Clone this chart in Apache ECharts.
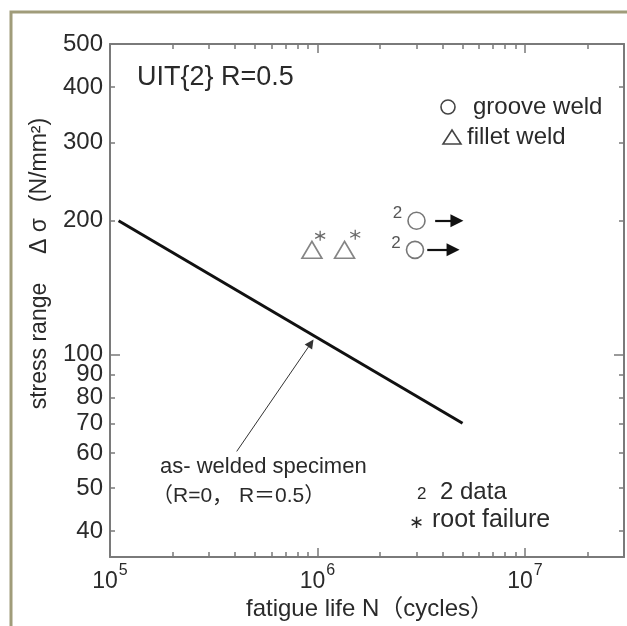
<!DOCTYPE html>
<html>
<head>
<meta charset="utf-8">
<script src="https://cdn.jsdelivr.net/npm/echarts@6/dist/echarts.min.js"></script>
<style>
  html, body { margin: 0; padding: 0; background: #fff; }
  #main { width: 627px; height: 626px; }
</style>
</head>
<body>
<div id="main"></div>
<script>
// values (N in cycles, S in N/mm2)
var lineN = [1.1e5, 5e6];
var lineS = [200, 70];
var grooveN = [3.0e6, 2.95e6];
var grooveS = [200, 172];
var filletN = [9.4e5, 1.35e6];
var filletS = [172, 172];
var rootN = [1.03e6, 1.52e6];
var rootS = [185, 186];
// run-out arrows: start / end of each arrow
var runStartN = [3.69e6, 3.38e6];
var runEndN = [4.7e6, 4.5e6];
var runS = [200, 172];
// pointer to the as-welded line
var noteN = [4.08e5, 9.3e5];
var noteS = [60.5, 106];

var xRange = [1e5, 3e7];
var yRange = [35, 500];
var xMajor = [1e5, 1e6, 1e7];
var xMinor = [2e5, 3e5, 4e5, 5e5, 6e5, 7e5, 8e5, 9e5, 2e6, 3e6, 4e6, 5e6, 6e6, 7e6, 8e6, 9e6, 2e7];
var yTickLabels = [40, 50, 60, 70, 80, 90, 100, 200, 300, 400, 500];
var yMajor = [100];
var yMinor = [40, 50, 60, 70, 80, 90, 200, 300, 400, 500];

var L = function (v) { return Math.log10(v); };
var pairs = function (a, b) { return a.map(function (v, i) { return [L(v), L(b[i])]; }); };

var FONT = '"Liberation Sans", Arial, "Noto Sans CJK SC", sans-serif';
var TXT = '#2a2a2a';
var AX = '#7a7a7a';

var chart = echarts.init(document.getElementById('main'));

function xAx(pos, ticks, len, line, labels) {
  return {
    type: 'value', position: pos,
    min: L(xRange[0]), max: L(xRange[1]),
    axisLine: { show: line, lineStyle: { color: AX, width: 2 } },
    axisTick: { show: true, inside: true, length: len, customValues: ticks.map(L), lineStyle: { color: AX, width: 1.5 } },
    axisLabel: labels ? {
      show: true, margin: 6, customValues: xMajor.map(L),
      formatter: function (v) { return '{b|10}{s|' + Math.round(v) + '}'; },
      rich: {
        b: { fontSize: 23, fontFamily: FONT, color: TXT, lineHeight: 30, verticalAlign: 'bottom' },
        s: { fontSize: 16, fontFamily: FONT, color: TXT, lineHeight: 30, verticalAlign: 'top', padding: [0, 0, 0, 1] }
      }
    } : { show: false },
    splitLine: { show: false }
  };
}
function yAx(pos, ticks, len, line, labels) {
  return {
    type: 'value', position: pos,
    min: L(yRange[0]), max: L(yRange[1]),
    axisLine: { show: line, lineStyle: { color: AX, width: 2 } },
    axisTick: { show: true, inside: true, length: len, customValues: ticks.map(L), lineStyle: { color: AX, width: 1.5 } },
    axisLabel: labels ? {
      show: true, margin: 7, customValues: yTickLabels.map(L),
      formatter: function (v) { return String(Math.round(Math.pow(10, v))); },
      fontSize: 24, fontFamily: FONT, color: TXT
    } : { show: false },
    splitLine: { show: false }
  };
}

var option = {
  backgroundColor: '#fff',
  animation: false,
  grid: { left: 110, top: 44, right: 3, bottom: 69, containLabel: false },
  xAxis: [
    xAx('bottom', xMajor, 9, true, true),
    xAx('bottom', xMinor, 5, false, false),
    xAx('top', xMajor, 9, true, false),
    xAx('top', xMinor, 5, false, false)
  ],
  yAxis: [
    yAx('left', yMajor, 10, true, true),
    yAx('left', yMinor, 5, false, false),
    yAx('right', yMajor, 10, true, false),
    yAx('right', yMinor, 5, false, false)
  ],
  series: [
    {
      name: 'as-welded', type: 'line', data: pairs(lineN, lineS),
      symbol: 'none', lineStyle: { color: '#111', width: 3 }
    },
    {
      name: 'fillet weld', type: 'scatter', data: pairs(filletN, filletS),
      symbol: 'triangle', symbolSize: [20, 17],
      itemStyle: { color: 'rgba(255,255,255,0)', borderColor: '#666', borderWidth: 1.6 }
    },
    {
      name: 'root failure', type: 'scatter', data: pairs(rootN, rootS),
      symbol: 'path://M5,0 L5,10 M0.67,2.5 L9.33,7.5 M0.67,7.5 L9.33,2.5', symbolSize: 10,
      itemStyle: { color: 'rgba(255,255,255,0)', borderColor: '#444', borderWidth: 1.3 }
    },
    {
      name: 'groove weld', type: 'scatter', data: pairs(grooveN, grooveS),
      symbol: 'circle', symbolSize: 17,
      itemStyle: { color: 'rgba(255,255,255,0)', borderColor: '#555', borderWidth: 1.6 },
      label: { show: true, formatter: '2', position: 'left', distance: 5, offset: [0, -7], fontSize: 17, fontFamily: FONT, color: TXT }
    },
    {
      name: 'run-out', type: 'lines', coordinateSystem: 'cartesian2d',
      symbol: ['none', 'triangle'], symbolSize: [0, 13],
      lineStyle: { color: '#111', width: 2.2, opacity: 1 },
      data: runS.map(function (s, i) { return { coords: [[L(runStartN[i]), L(s)], [L(runEndN[i]), L(s)]] }; })
    },
    {
      name: 'note', type: 'lines', coordinateSystem: 'cartesian2d',
      symbol: ['none', 'triangle'], symbolSize: [0, 9],
      lineStyle: { color: '#333', width: 1, opacity: 1 },
      data: [{ coords: pairs(noteN, noteS) }]
    }
  ],
  graphic: [
    { type: 'rect', shape: { x: 11, y: 12, width: 660, height: 660 }, style: { fill: 'none', stroke: '#a09c7a', lineWidth: 3 }, z: 100 },
    { type: 'text', x: 137, y: 78, style: { text: 'UIT{2} R=0.5', font: '27px ' + FONT, fill: TXT, verticalAlign: 'middle' } },
    { type: 'circle', shape: { cx: 448, cy: 107, r: 7 }, style: { fill: 'none', stroke: '#444', lineWidth: 1.6 } },
    { type: 'text', x: 473, y: 107, style: { text: 'groove weld', font: '24px ' + FONT, fill: TXT, verticalAlign: 'middle' } },
    { type: 'polygon', shape: { points: [[443, 144], [461, 144], [452, 130]] }, style: { fill: 'none', stroke: '#444', lineWidth: 1.6 } },
    { type: 'text', x: 467, y: 137, style: { text: 'fillet weld', font: '24px ' + FONT, fill: TXT, verticalAlign: 'middle' } },
    { type: 'text', x: 417, y: 494, style: { text: '2', font: '17px ' + FONT, fill: TXT, verticalAlign: 'middle' } },
    { type: 'text', x: 440, y: 492, style: { text: '2 data', font: '24px ' + FONT, fill: TXT, verticalAlign: 'middle' } },
    { type: 'text', x: 416, y: 523, style: { text: '\u2217', font: '18px ' + FONT, fill: TXT, align: 'center', verticalAlign: 'middle' } },
    { type: 'text', x: 432, y: 520, style: { text: 'root failure', font: '25px ' + FONT, fill: TXT, verticalAlign: 'middle' } },
    { type: 'text', x: 160, y: 467, style: { text: 'as- welded specimen', font: '22px ' + FONT, fill: TXT, verticalAlign: 'middle' } },
    { type: 'text', x: 152, y: 496, style: { text: '\uff08R=0\uff0c R\uff1d0.5\uff09', font: '21px ' + FONT, fill: TXT, verticalAlign: 'middle' } },
    { type: 'text', x: 370, y: 609, style: { text: 'fatigue life N\uff08cycles\uff09', font: '24px ' + FONT, fill: TXT, align: 'center', verticalAlign: 'middle' } },
    { type: 'text', x: 40, y: 346, rotation: Math.PI / 2, style: { text: 'stress range', font: '23px ' + FONT, fill: TXT, align: 'center', verticalAlign: 'middle' } },
    { type: 'text', x: 40, y: 236, rotation: Math.PI / 2, style: { text: '\u0394 \u03c3', font: '23px ' + FONT, fill: TXT, align: 'center', verticalAlign: 'middle' } },
    { type: 'text', x: 40, y: 160, rotation: Math.PI / 2, style: { text: '(N/mm\u00b2)', font: '23px ' + FONT, fill: TXT, align: 'center', verticalAlign: 'middle' } }
  ]
};
chart.setOption(option);
</script>
</body>
</html>
